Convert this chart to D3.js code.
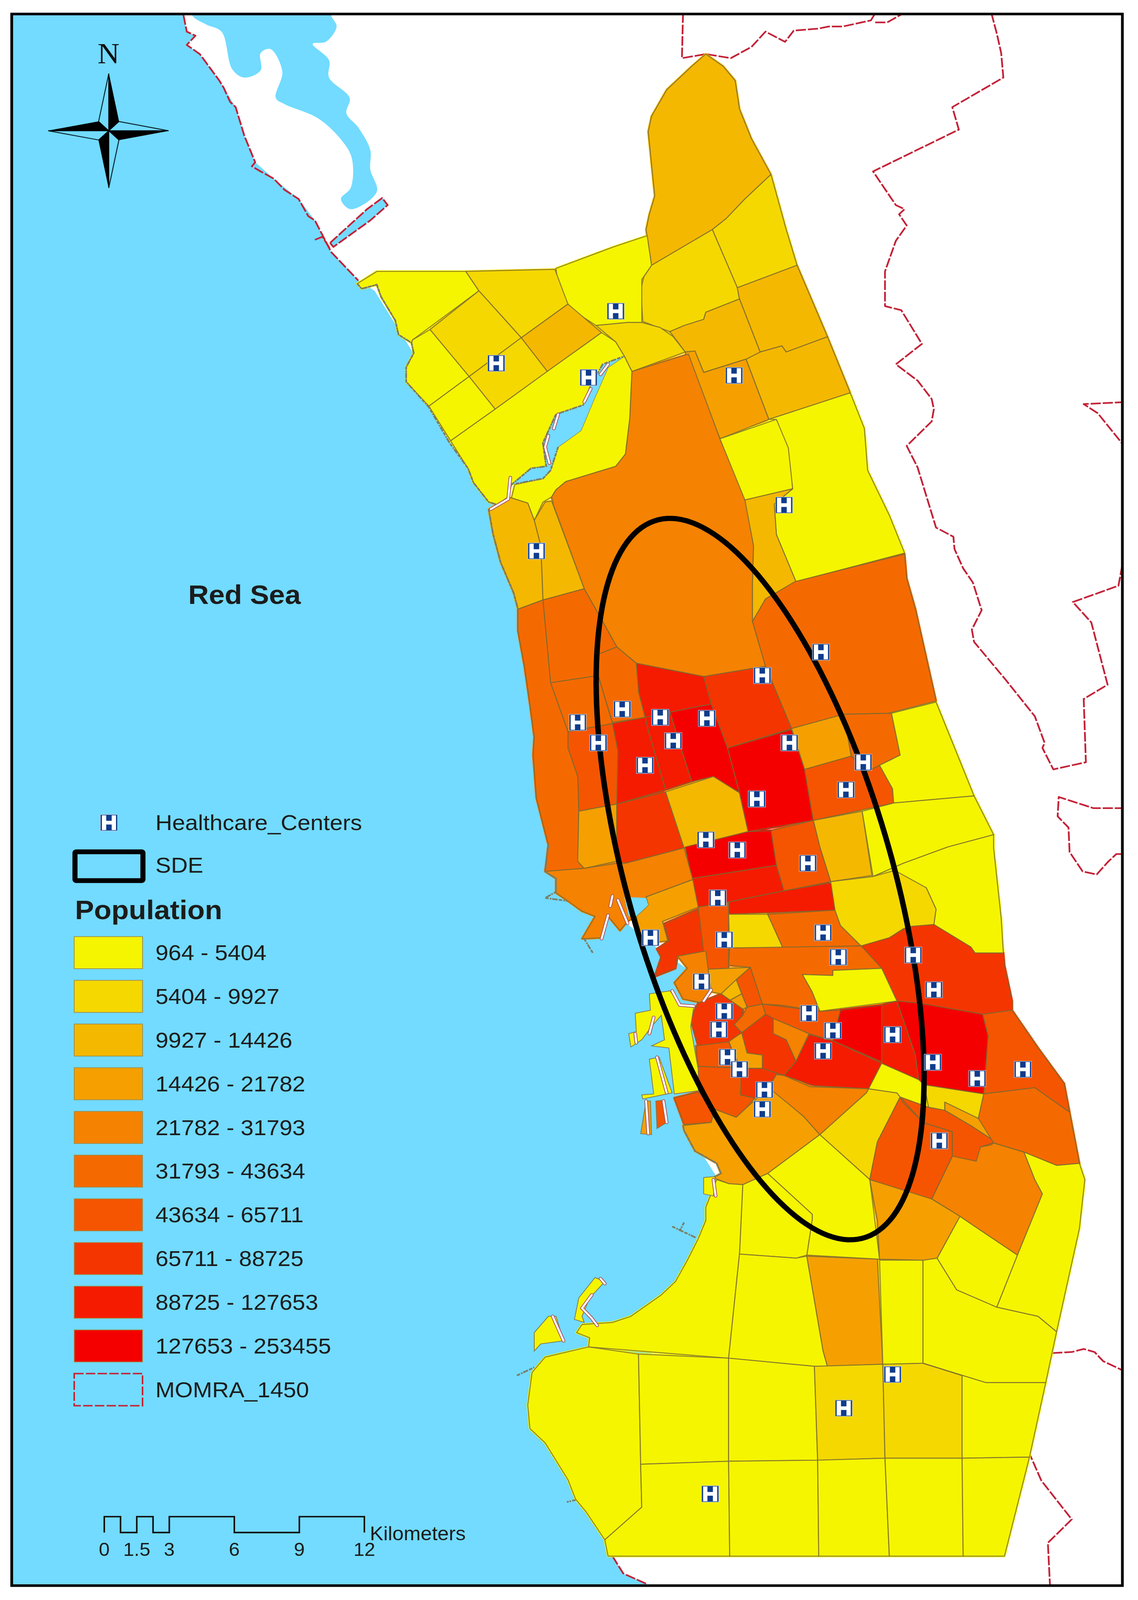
<!DOCTYPE html>
<html>
<head>
<meta charset="utf-8">
<title>Population and healthcare centers</title>
<script src="https://cdn.jsdelivr.net/npm/d3@7"></script>
<style>
html, body { margin: 0; background: #fff; overflow: hidden; }
svg { display: block; }
text { font-family: "Liberation Sans", Arial, sans-serif; fill: #1c1c1c; }
</style>
</head>
<body>
<svg id="map"></svg>
<script>
// Map units: positions, 1048 x 1568 across the sheet.
var classLabels = ['964 - 5404', '5404 - 9927', '9927 - 14426', '14426 - 21782', '21782 - 31793',
	'31793 - 43634', '43634 - 65711', '65711 - 88725', '88725 - 127653', '127653 - 253455'];
var classColors = ['#f5f500', '#f5d800', '#f5b800', '#f5a000', '#f58200',
	'#f56a00', '#f55500', '#f53500', '#f51b00', '#f50000'];

// [population class, outline]
var districts = [
	// north
	[2, [[650,53],[666,65],[677,79],[681,107],[692,136],[710,171],[686,195],[669,214],[656,225],[600,260],[595,225],[598,210],[603,192],[597,129],[600,114],[614,88],[637,65]]],
	[1, [[710,171],[724,225],[734,260],[679,282],[656,225],[669,214],[686,195]]],
	[1, [[656,225],[679,282],[681,293],[650,306],[648,313],[630,319],[617,325],[604,320],[592,315],[590,284],[593,271],[600,260]]],
	[2, [[679,282],[734,260],[762,330],[724,345],[720,339],[700,345],[681,293]]],
	[2, [[700,345],[720,339],[724,345],[762,330],[783,385],[708,411],[687,352]]],
	[2, [[681,293],[700,345],[687,352],[648,365],[640,344],[631,345],[617,325],[630,319],[648,313],[650,306]]],
	[3, [[631,345],[640,344],[648,365],[687,352],[708,411],[663,430]]],
	[0, [[512,263],[565,242],[596,231],[600,260],[591,274],[591,316],[578,316],[549,319],[530,306],[523,298],[514,281]]],
	// north west block
	[0, [[347,266],[429,266],[441,285],[380,333],[379,336],[367,328],[364,314],[351,291],[347,279],[333,283],[329,278]]],
	[1, [[429,266],[511,264],[523,298],[480,331],[441,285]]],
	[1, [[441,285],[480,331],[432,369],[396,323]]],
	[2, [[523,298],[554,326],[504,364],[480,331]]],
	[1, [[480,331],[504,364],[456,401],[432,369]]],
	[0, [[380,333],[396,323],[432,369],[395,398],[374,374],[374,360],[381,346],[379,336]]],
	[0, [[432,369],[456,401],[415,432],[395,398]]],
	[0, [[554,326],[567,335],[575,349],[560,360],[544,378],[537,397],[512,406],[500,434],[503,457],[489,459],[471,475],[467,488],[459,495],[450,492],[436,473],[431,459],[415,432],[456,401],[504,364]]],
	[0, [[575,349],[582,364],[580,410],[576,445],[567,457],[521,472],[512,480],[508,487],[500,492],[492,510],[486,493],[471,488],[474,475],[500,469],[507,461],[514,438],[535,422],[546,394],[560,360]]],
	[1, [[549,319],[578,316],[591,316],[608,321],[620,330],[631,345],[582,364],[575,349],[567,335]]],
	// centre north
	[4, [[582,364],[634,347],[663,430],[687,490],[694,535],[693,572],[693,609],[705,653],[648,663],[586,650],[568,634],[556,611],[538,577],[510,496],[508,487],[512,480],[521,472],[567,457],[576,445],[580,410]]],
	[2, [[492,510],[502,492],[508,491],[538,577],[500,588],[499,560],[498,535]]],
	[2, [[471,488],[486,493],[492,510],[498,535],[500,588],[477,597],[473,581],[461,551],[454,523],[450,499],[467,488]]],
	[0, [[663,430],[715,411],[728,439],[727,439],[730,479],[686,490]]],
	[0, [[708,411],[783,385],[796,420],[799,461],[819,505],[833,542],[733,570],[715,524],[713,494],[730,479],[726,439],[715,411]]],
	[2, [[686,490],[730,479],[713,494],[715,524],[733,570],[705,587],[693,609],[693,572],[694,535]]],
	[5, [[732,570],[833,543],[835,567],[843,597],[862,687],[818,699],[777,700],[729,714],[705,653],[693,609],[705,587]]],
	// centre
	[7, [[648,663],[705,653],[729,714],[670,733],[655,690]]],
	[8, [[586,650],[648,663],[655,690],[617,698],[594,703],[588,678]]],
	[9, [[617,698],[655,690],[670,733],[681,777],[657,761],[637,766],[628,736]]],
	[8, [[594,703],[617,698],[628,736],[637,766],[613,774],[598,720]]],
	[8, [[564,709],[594,703],[598,720],[613,774],[568,788],[569,736]]],
	[6, [[523,717],[564,709],[569,736],[568,788],[533,795],[532,761],[523,733]]],
	[5, [[507,669],[551,662],[564,709],[523,717]]],
	[5, [[551,641],[568,634],[586,650],[588,678],[594,703],[564,708],[551,662]]],
	[5, [[500,588],[538,577],[556,611],[568,634],[551,641],[551,662],[507,669]]],
	[5, [[477,597],[500,588],[507,669],[523,717],[523,733],[532,761],[533,795],[532,844],[538,851],[502,854],[505,828],[494,782],[491,740],[492,722],[488,690],[483,653],[477,618]]],
	[3, [[533,795],[568,788],[568,844],[538,851],[532,844]]],
	[7, [[568,788],[613,776],[630,831],[576,846],[568,844]]],
	[2, [[613,776],[657,761],[681,777],[689,815],[630,831]]],
	[9, [[670,733],[729,715],[741,754],[749,804],[689,815],[681,777]]],
	[3, [[729,714],[777,700],[784,741],[741,754]]],
	[5, [[777,700],[821,699],[829,740],[810,750],[799,756],[784,741]]],
	[6, [[741,754],[784,741],[799,756],[810,750],[822,773],[823,787],[749,804]]],
	[0, [[821,699],[862,688],[878,730],[897,780],[823,787],[822,773],[810,750],[829,740]]],
	[2, [[749,804],[794,795],[803,858],[765,864],[755,830]]],
	[0, [[794,795],[823,787],[897,780],[915,818],[873,830],[832,846],[804,859]]],
	[0, [[804,859],[832,846],[873,830],[915,818],[915,831],[922,900],[924,934],[898,934],[894,928],[860,906],[862,891],[853,870]]],
	[6, [[710,814],[749,804],[755,830],[765,864],[722,873],[715,848]]],
	[9, [[631,830],[689,815],[710,814],[715,848],[637,861]]],
	[8, [[637,861],[715,848],[722,873],[671,884],[643,889]]],
	[8, [[671,884],[722,873],[766,865],[770,867],[769,892],[671,896]]],
	[4, [[502,854],[538,851],[568,846],[576,846],[630,831],[638,862],[595,879],[597,887],[586,898],[578,903],[571,912],[560,898],[554,919],[536,920],[548,898],[536,893],[523,883],[512,875],[512,861]]],
	[3, [[595,879],[638,862],[643,889],[610,903],[615,922],[592,925],[586,898],[597,887]]],
	[7, [[612,905],[645,890],[650,932],[624,937],[622,949],[603,957],[609,938],[605,930],[616,922]]],
	[6, [[643,889],[671,884],[671,949],[650,950]]],
	[1, [[671,896],[707,896],[721,929],[672,929]]],
	[5, [[707,896],[769,892],[774,907],[793,927],[721,929]]],
	[1, [[765,864],[804,859],[824,853],[853,870],[862,891],[860,906],[832,910],[819,919],[793,927],[774,907],[769,892]]],
	[7, [[793,927],[819,919],[836,908],[860,906],[894,928],[898,934],[924,934],[925,946],[932,981],[932,990],[905,994],[846,983],[826,981],[812,949]]],
	[5, [[672,929],[793,927],[812,949],[767,951],[767,956],[739,955],[748,972],[755,991],[719,985],[702,984],[691,948],[671,946]]],
	[0, [[739,955],[767,956],[767,951],[812,949],[826,981],[755,991],[748,972]]],
	[3, [[650,950],[691,948],[664,974],[655,972]]],
	[6, [[678,960],[691,948],[702,984],[688,987],[683,974]]],
	[2, [[664,974],[678,960],[683,974],[671,981]]],
	[3, [[671,981],[683,974],[688,987],[684,989],[664,974]]],
	[4, [[624,937],[650,932],[652,949],[655,972],[647,983],[629,979],[621,963],[633,949]]],
	// cluster around the old town
	[6, [[702,984],[755,991],[774,990],[767,1020],[745,1013],[712,998],[705,994]]],
	[9, [[774,990],[812,985],[815,1042],[767,1020]]],
	[8, [[745,1014],[767,1020],[812,1042],[800,1067],[750,1064],[722,1054],[733,1040]]],
	[4, [[712,998],[745,1013],[733,1040],[724,1019],[712,1013]]],
	[7, [[705,994],[712,998],[712,1013],[724,1019],[733,1040],[722,1054],[702,1047],[702,1034],[688,1032],[683,1012]]],
	[3, [[671,1020],[683,1012],[688,1032],[702,1034],[702,1047],[683,1047],[676,1034]]],
	[5, [[688,987],[702,984],[705,994],[683,1012],[676,1004],[684,995]]],
	[7, [[664,974],[684,989],[684,995],[676,1004],[683,1012],[671,1021],[643,1025],[638,1006],[636,999],[643,983]]],
	[6, [[641,1025],[671,1021],[676,1034],[683,1047],[643,1045]]],
	[6, [[643,1045],[683,1047],[682,1073],[695,1076],[688,1085],[678,1095],[658,1087],[643,1069]]],
	[7, [[683,1047],[702,1047],[722,1054],[715,1053],[708,1066],[695,1076],[682,1073]]],
	[6, [[621,1076],[643,1070],[658,1087],[655,1100],[630,1102]]],
	[3, [[629,1103],[655,1100],[658,1087],[678,1095],[688,1085],[708,1066],[715,1071],[740,1094],[755,1112],[707,1150],[684,1161],[671,1160],[657,1154],[664,1150],[660,1140],[640,1128],[630,1108]]],
	[4, [[715,1053],[722,1054],[746,1065],[800,1067],[798,1071],[755,1112],[740,1094],[708,1066]]],
	[1, [[800,1067],[826,1071],[829,1075],[808,1119],[801,1156],[755,1112],[798,1071]]],
	[0, [[755,1112],[801,1156],[810,1234],[743,1230],[748,1195],[748,1190],[707,1150]]],
	[0, [[684,1161],[707,1150],[748,1190],[748,1195],[743,1230],[733,1233],[681,1229]]],
	[0, [[660,1156],[671,1160],[684,1161],[681,1229],[671,1331],[542,1320],[543,1311],[531,1306],[536,1298],[564,1296],[581,1290],[609,1269],[622,1256],[633,1235],[643,1214],[650,1196],[650,1183]]],
	[0, [[681,1229],[733,1233],[743,1231],[758,1324],[762,1339],[750,1339],[671,1331]]],
	[3, [[743,1231],[808,1234],[813,1337],[762,1339],[758,1324]]],
	[0, [[810,1235],[850,1235],[850,1336],[813,1337]]],
	[0, [[850,1235],[863,1233],[881,1264],[918,1281],[956,1290],[973,1305],[963,1355],[908,1355],[850,1336]]],
	[0, [[863,1233],[884,1192],[937,1230],[918,1281],[881,1264]]],
	[4, [[877,1133],[903,1124],[913,1122],[915,1120],[943,1129],[953,1156],[960,1170],[937,1230],[884,1192],[858,1175]]],
	[3, [[801,1156],[832,1164],[858,1175],[884,1192],[863,1233],[850,1235],[810,1234],[808,1196]]],
	[0, [[943,1129],[973,1142],[994,1140],[999,1156],[994,1204],[973,1305],[956,1290],[918,1281],[937,1230],[960,1170],[953,1156]]],
	[6, [[829,1075],[808,1119],[801,1156],[858,1175],[877,1133],[877,1109],[850,1100],[832,1081]]],
	[6, [[829,1075],[855,1085],[870,1088],[894,1103],[917,1119],[903,1124],[899,1138],[877,1133],[877,1109],[850,1100]]],
	[3, [[870,1080],[901,1096],[917,1103],[917,1119],[894,1103],[870,1088]]],
	[1, [[851,1063],[906,1072],[901,1096],[870,1080],[870,1088],[855,1085]]],
	[0, [[812,1042],[846,1058],[851,1063],[855,1085],[829,1075],[826,1071],[800,1067]]],
	[8, [[812,985],[826,981],[843,1034],[846,1058],[812,1042]]],
	[9, [[826,981],[846,983],[905,994],[910,1015],[906,1072],[851,1063],[846,1058],[843,1034]]],
	[6, [[905,994],[932,990],[956,1027],[980,1062],[985,1090],[953,1066],[906,1072],[910,1015]]],
	[5, [[906,1072],[953,1066],[985,1090],[994,1140],[973,1142],[943,1129],[915,1120],[901,1096]]],
	// south blocks
	[0, [[542,1320],[588,1327],[590,1435],[591,1477],[557,1509],[540,1482],[530,1469],[523,1450],[502,1414],[488,1400],[486,1377],[490,1345],[502,1330]]],
	[0, [[588,1327],[671,1331],[671,1432],[590,1435]]],
	[0, [[671,1331],[750,1339],[753,1431],[671,1432]]],
	[1, [[750,1339],[813,1337],[815,1429],[753,1431]]],
	[1, [[813,1337],[850,1336],[886,1348],[886,1429],[815,1429]]],
	[0, [[850,1336],[908,1355],[963,1355],[948,1428],[886,1429],[886,1348]]],
	[0, [[590,1435],[671,1432],[672,1525],[560,1525],[557,1509],[591,1477]]],
	[0, [[671,1432],[753,1431],[754,1525],[672,1525]]],
	[0, [[753,1431],[815,1429],[819,1525],[754,1525]]],
	[0, [[815,1429],[886,1429],[887,1525],[819,1525]]],
	[0, [[886,1429],[948,1428],[925,1525],[887,1525]]]
];

// port strips and islands, [population class, outline]
var islands = [
	[0, [[598,974],[617,971],[628,986],[639,986],[636,1006],[643,1048],[643,1069],[621,1072],[616,1027],[600,1025],[612,1019],[609,995],[600,1006],[591,1019],[581,1026],[579,1013],[586,1011],[585,993],[599,990]]],
	[0, [[598,1038],[607,1036],[619,1071],[592,1077],[591,1073],[602,1072]]],
	[6, [[604,1079],[612,1078],[614,1100],[605,1106]]],
	[3, [[595,1079],[599,1079],[600,1112],[590,1111]]],
	[0, [[529,1293],[533,1272],[548,1252],[557,1256],[543,1272],[536,1290],[538,1296]]],
	[0, [[492,1324],[492,1306],[505,1290],[512,1290],[519,1314],[498,1317]]],
	[0, [[648,1154],[659,1153],[657,1172],[648,1170]]]
];

var seaOutline = [[0,0],[169,0],[169,15],[172,31],[180,35],[172,44],[184,53],[202,79],[217,105],[225,133],[235,159],[252,175],[275,195],[290,216],[305,247],[330,275],
	[345,285],[380,345],[385,375],[420,440],[460,490],[485,510],[490,590],[500,700],[510,850],[560,890],[600,925],[640,955],[645,990],[645,1070],[640,1120],[670,1170],[655,1250],[600,1300],[600,1400],[580,1500],[564,1525],[574,1542],[595,1552],[600,1568],[0,1568]];
var lagoonOutline = [[177,0],[177,15],[190,24],[204,31],[214,68],[225,76],[240,69],[240,52],[249,48],[260,70],[254,96],[262,102],[293,116],[315,138],[324,155],[323,184],[314,195],[323,205],[347,188],[341,166],[341,147],[330,125],[319,111],[322,96],[303,76],[303,59],[288,43],[300,41],[310,26],[305,15],[305,0]];
var channelOutline = [[304,238],[338,205],[352,194],[357,201],[341,216],[307,242]];
var inletOutline = [[471,475],[489,459],[503,457],[500,434],[512,406],[537,397],[544,378],[555,357],[575,349],[560,360],[546,394],[535,422],[514,438],[507,461],[500,469],[475,474]];
var harbourOutline = [[575,879],[595,880],[597,887],[586,898],[579,898],[577,889]];

// MOMRA_1450 limit, each piece
var momraLines = [
	[[629,13],[628,57],[650,53],[673,57],[692,46],[705,31],[723,41],[731,30],[754,28],[763,26],[776,26],[802,20],[806,13]],
	[[806,22],[817,22],[832,13]],
	[[913,13],[918,33],[922,52],[924,76],[877,105],[883,127],[804,168],[825,201],[833,205],[828,210],[835,221],[825,236],[815,266],[815,300],[830,304],[849,337],[825,357],[845,373],[858,391],[860,401],[858,413],[835,437],[845,458],[862,517],[878,526],[879,538],[887,557],[896,571],[904,598],[895,617],[897,629],[926,666],[953,702],[962,728],[960,733],[970,754],[1000,747],[998,685],[1020,671],[1006,614],[1005,610],[988,590],[1030,574],[1036,540]],
	[[1036,394],[998,396],[1011,405],[1036,438]],
	[[1036,792],[1007,792],[975,781],[974,800],[984,811],[985,835],[997,854],[1010,857],[1020,845],[1028,837],[1036,837]],
	[[969,1326],[987,1325],[998,1322],[1008,1325],[1016,1334],[1036,1344]],
	[[960,1364],[954,1392]],
	[[947,1422],[959,1451],[987,1489],[965,1512],[967,1555]],
	[[564,1525],[574,1542],[595,1552]],
	// sea side of the northern coast
	[[169,15],[172,31],[180,35],[172,44],[184,53],[202,79],[206,86],[212,100],[217,105],[225,133],[235,159],[232,163],[240,168],[252,175],[262,186],[275,195],[284,212],[290,216],[305,247],[330,275]],
	[[304,238],[338,205],[352,194],[357,201],[341,216],[307,242],[304,238]],
	[[290,235],[297,232],[304,244]]
];

// rough shoreline drawn over the district edges
var shoreLines = [
	[[329,278],[333,283],[347,279],[351,291],[364,314],[367,328],[379,336],[381,346],[374,360],[374,374],[395,399],[414,434],[431,459],[436,473],[450,492],[459,495],[467,488]],
	[[450,499],[454,523],[461,551],[473,581],[477,597]],
	[[471,475],[489,459],[503,457],[500,434],[512,406],[537,397],[544,378],[555,357],[575,349]],
	[[475,474],[500,469],[507,461],[514,438]],
	[[505,828],[502,854],[512,861],[512,874],[502,880],[523,883]],
	[[629,1103],[630,1108],[640,1128],[660,1140],[664,1150],[657,1154]],
	[[476,1348],[492,1340]],
	[[619,1202],[641,1213]],
	[[630,1198],[626,1206]],
	[[538,920],[546,934]],
	[[530,1470],[522,1472]]
];

// white gaps around quays and the estuary
var quayLines = [
	[[564,878],[562,888]], [[569,882],[578,905]], [[560,897],[554,920]],
	[[619,971],[626,985],[639,986]], [[655,970],[648,981]], [[602,997],[598,1013]],
	[[585,1013],[586,1022]], [[605,1036],[614,1071]], [[595,1079],[597,1111]], [[611,1079],[614,1100]],
	[[470,468],[468,489],[452,499]], [[505,427],[502,438],[506,454]], [[514,406],[510,420]],
	[[544,381],[538,394]], [[560,357],[553,367]], [[545,1269],[536,1282],[545,1292],[550,1299]],
	[[509,1290],[519,1314]], [[553,1253],[557,1258]], [[657,1156],[659,1172]]
];

var healthCenters = [[567,305],[457,356],[542,370],[676,368],[722,495],[494,540],[756,639],[702,662],[532,708],[573,695],[608,703],[651,704],
	[551,728],[620,726],[727,728],[594,750],[795,747],[779,774],[697,783],[650,823],[679,833],[744,846],[661,880],[599,919],[667,921],[758,914],
	[772,938],[841,936],[860,970],[646,962],[667,991],[662,1009],[745,993],[767,1010],[822,1014],[758,1030],[670,1036],[681,1048],[859,1041],
	[900,1057],[942,1048],[704,1068],[702,1087],[865,1118],[822,1347],[777,1380],[654,1464]];

// standard deviational ellipse: centre x, centre y, long semi axis, short semi axis, tilt in degrees
var sdeEllipse = [700, 861.5, 364.4, 122.4, 14.93];

var scaleKm = [0, 0.75, 1.5, 2.25, 3, 6, 9, 12];
var scaleLabels = [[0, '0'], [1.5, '1.5'], [3, '3'], [6, '6'], [9, '9'], [12, '12']];

var W = 2914, H = 4339;
var x = d3.scaleLinear().domain([0, 1048]).range([0, W]);
var y = d3.scaleLinear().domain([0, 1568]).range([0, H]);
var line = d3.line().x(function (d) { return x(d[0]); }).y(function (d) { return y(d[1]); });
var smooth = d3.line().x(function (d) { return x(d[0]); }).y(function (d) { return y(d[1]); }).curve(d3.curveCatmullRomClosed.alpha(0.5));
function ring(pts) { return line(pts) + 'Z'; }

// the window can be shorter than the sheet, so the whole sheet is fitted to it
var svg = d3.select('#map').attr('width', window.innerWidth).attr('height', window.innerHeight)
	.attr('viewBox', '0 0 ' + W + ' ' + H).attr('preserveAspectRatio', 'none');
var frame = { x: 30, y: 38, w: 2844, h: 4262 };

svg.append('clipPath').attr('id', 'frameClip').append('rect')
	.attr('x', frame.x).attr('y', frame.y).attr('width', frame.w).attr('height', frame.h);

// healthcare icon
var icon = svg.append('symbol').attr('id', 'hIcon').attr('viewBox', '-23 -23 46 46');
icon.append('rect').attr('x', -22).attr('y', -22).attr('width', 44).attr('height', 44).attr('fill', '#0f3c8c').attr('stroke', '#b9c4d6').attr('stroke-width', 1.5);
icon.append('path').attr('fill', '#fff').attr('d', 'M-18,-20h11v15h14v-15h11v40h-11v-15h-14v15h-11Z');

var map = svg.append('g').attr('clip-path', 'url(#frameClip)');
map.append('rect').attr('x', frame.x).attr('y', frame.y).attr('width', frame.w).attr('height', frame.h).attr('fill', '#fff');

var seaColor = '#72dbff';
map.append('path').attr('d', ring(seaOutline)).attr('fill', seaColor);
map.append('path').attr('d', smooth(lagoonOutline)).attr('fill', seaColor);
map.append('path').attr('d', ring(channelOutline)).attr('fill', seaColor);

map.append('g').selectAll('path').data(momraLines).join('path')
	.attr('d', line).attr('fill', 'none').attr('stroke', '#c32238').attr('stroke-width', 4.5)
	.attr('stroke-dasharray', '26 5').attr('stroke-linejoin', 'round');

// same shapes underneath with a fat edge in their own colour, closes hairline gaps between neighbours
map.append('g').selectAll('path').data(districts).join('path')
	.attr('d', function (d) { return ring(d[1]); })
	.attr('fill', function (d) { return classColors[d[0]]; })
	.attr('stroke', function (d) { return classColors[d[0]]; }).attr('stroke-width', 6).attr('stroke-linejoin', 'round');

map.append('g').selectAll('path').data(districts).join('path')
	.attr('d', function (d) { return ring(d[1]); })
	.attr('fill', function (d) { return classColors[d[0]]; })
	.attr('stroke', 'rgb(120,105,50)').attr('stroke-opacity', 0.8).attr('stroke-width', 2.6).attr('stroke-linejoin', 'round');

map.append('path').attr('d', ring(inletOutline)).attr('fill', seaColor);
map.append('path').attr('d', ring(harbourOutline)).attr('fill', seaColor);

map.append('g').selectAll('path').data(islands).join('path')
	.attr('d', function (d) { return ring(d[1]); })
	.attr('fill', function (d) { return classColors[d[0]]; })
	.attr('stroke', '#7f7a55').attr('stroke-width', 2);

map.append('g').selectAll('path').data(shoreLines).join('path')
	.attr('d', line).attr('fill', 'none').attr('stroke', '#7b7d68').attr('stroke-width', 4.5)
	.attr('stroke-dasharray', '9 3 4 2 14 3');

var quays = map.append('g');
quays.selectAll('path.edge').data(quayLines).join('path').attr('class', 'edge')
	.attr('d', line).attr('fill', 'none').attr('stroke', '#a8565f').attr('stroke-width', 9).attr('stroke-linecap', 'round');
quays.selectAll('path.gap').data(quayLines).join('path').attr('class', 'gap')
	.attr('d', line).attr('fill', 'none').attr('stroke', '#fff').attr('stroke-width', 5).attr('stroke-linecap', 'round');

// SDE ellipse through the same scales as everything else
var tilt = sdeEllipse[4] * Math.PI / 180;
var ellipsePts = d3.range(0, 360, 2).map(function (a) {
	var t = a * Math.PI / 180, ca = sdeEllipse[2] * Math.cos(t), cb = sdeEllipse[3] * Math.sin(t);
	return [sdeEllipse[0] + ca * Math.sin(tilt) + cb * Math.cos(tilt), sdeEllipse[1] + ca * Math.cos(tilt) - cb * Math.sin(tilt)];
});
map.append('path').attr('d', ring(ellipsePts)).attr('fill', 'none').attr('stroke', '#000').attr('stroke-width', 14);

var iconSize = 46;
map.append('g').selectAll('use').data(healthCenters).join('use')
	.attr('href', '#hIcon').attr('width', iconSize).attr('height', iconSize)
	.attr('x', function (d) { return x(d[0]) - iconSize / 2; })
	.attr('y', function (d) { return y(d[1]) - iconSize / 2; });

svg.append('rect').attr('x', frame.x).attr('y', frame.y).attr('width', frame.w).attr('height', frame.h)
	.attr('fill', 'none').attr('stroke', '#000').attr('stroke-width', 7);

// north arrow
var compass = svg.append('g').attr('transform', 'translate(278.5,354.6)');
var blackVanes = ['M0,-155L26,-25L0,0Z', 'M153,0L26,25L0,0Z', 'M0,155L-26,25L0,0Z', 'M-155,0L-26,-25L0,0Z'];
var openVanes = ['M0,-155L-26,-25L0,0Z', 'M153,0L26,-25L0,0Z', 'M0,155L26,25L0,0Z', 'M-155,0L-26,25L0,0Z'];
compass.selectAll('path.open').data(openVanes).join('path').attr('class', 'open').attr('d', function (d) { return d; })
	.attr('fill', 'none').attr('stroke', '#0b2530').attr('stroke-width', 2.5);
compass.selectAll('path.solid').data(blackVanes).join('path').attr('class', 'solid').attr('d', function (d) { return d; })
	.attr('fill', '#000').attr('stroke', '#000').attr('stroke-width', 1);
svg.append('text').attr('x', 278).attr('y', 172).attr('text-anchor', 'middle')
	.style('font-family', '"Liberation Serif", serif').attr('font-size', 78).style('fill', '#101010').text('N');

svg.append('text').attr('x', 626).attr('y', 1638).attr('text-anchor', 'middle')
	.attr('font-size', 73).attr('font-weight', 'bold').text('Red Sea');

// legend
var legend = svg.append('g');
var labelX = 398;
legend.append('use').attr('href', '#hIcon').attr('x', 256).attr('y', 2208).attr('width', 46).attr('height', 46);
legend.append('text').attr('x', labelX).attr('y', 2251).attr('font-size', 59.5).text('Healthcare_Centers');
legend.append('rect').attr('x', 192).attr('y', 2310).attr('width', 174).attr('height', 78).attr('rx', 3)
	.attr('fill', 'none').attr('stroke', '#000').attr('stroke-width', 13);
legend.append('text').attr('x', labelX).attr('y', 2367).attr('font-size', 59.5).text('SDE');
legend.append('text').attr('x', 192).attr('y', 2493).attr('font-size', 73).attr('font-weight', 'bold').text('Population');

var rowY = d3.scalePoint().domain(d3.range(classLabels.length + 1)).range([2584, 3769]);
var rows = legend.selectAll('g.row').data(classLabels).join('g').attr('class', 'row')
	.attr('transform', function (d, i) { return 'translate(0,' + rowY(i) + ')'; });
rows.append('rect').attr('x', 190).attr('y', -44).attr('width', 175).attr('height', 87)
	.attr('fill', function (d, i) { return classColors[i]; })
	.attr('stroke', '#9a8f50').attr('stroke-width', 2);
rows.append('text').attr('x', labelX).attr('y', 20).attr('font-size', 59.5).text(function (d) { return d; });

var lastRow = legend.append('g').attr('transform', 'translate(0,' + rowY(classLabels.length) + ')');
lastRow.append('rect').attr('x', 190).attr('y', -44).attr('width', 175).attr('height', 87)
	.attr('fill', 'none').attr('stroke', '#c32238').attr('stroke-width', 4).attr('stroke-dasharray', '24 6');
lastRow.append('text').attr('x', labelX).attr('y', 20).attr('font-size', 59.5).text('MOMRA_1450');

// scale bar
var km = d3.scaleLinear().domain([0, 12]).range([267, 933]);
var barTop = 4113, barBottom = 4156;
var barPath = 'M' + km(0) + ',' + barBottom;
scaleKm.slice(0, -1).forEach(function (k, i) {
	barPath += 'V' + (i % 2 === 0 ? barTop : barBottom) + 'H' + km(scaleKm[i + 1]);
});
barPath += 'V' + barBottom;
svg.append('path').attr('fill', 'none').attr('stroke', '#111').attr('stroke-width', 4).attr('d', barPath);
svg.selectAll('text.tick').data(scaleLabels).join('text').attr('class', 'tick')
	.attr('x', function (d) { return km(d[0]); }).attr('y', 4219).attr('text-anchor', 'middle')
	.attr('font-size', 50).text(function (d) { return d[1]; });
svg.append('text').attr('x', 947).attr('y', 4177).attr('font-size', 52).text('Kilometers');
</script>
</body>
</html>
